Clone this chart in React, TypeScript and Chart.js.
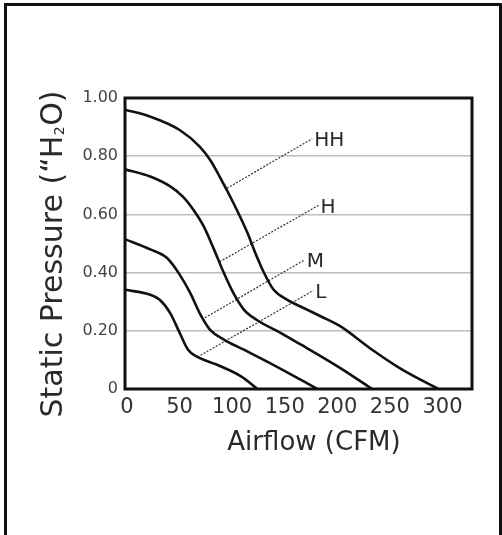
import { useEffect, useRef } from "react";
import { Chart, registerables } from "chart.js";

Chart.register(...registerables);

// ---- data ----
const xTicks = [0, 50, 100, 150, 200, 250, 300];
const xTickLabels = ["0", "50", "100", "150", "200", "250", "300"];
const yTicks = [0, 0.2, 0.4, 0.6, 0.8, 1.0];
const yTickLabels = ["0", "0.20", "0.40", "0.60", "0.80", "1.00"];

const xTitle = "Airflow (CFM)";
const yTitleStart = "Static Pressure (\u201CH";
const yTitleSub = "2";
const yTitleEnd = "O)";

const seriesNames = ["HH", "H", "M", "L"];

const hhFlow = [0, 24, 52, 71, 81, 90, 103, 116, 125, 132, 141, 154, 173, 186, 205, 233, 262, 298];
const hhPressure = [0.96, 0.936, 0.89, 0.833, 0.787, 0.73, 0.64, 0.54, 0.458, 0.401, 0.343, 0.307, 0.273, 0.25, 0.215, 0.14, 0.07, 0];

const hFlow = [0, 24, 43, 55, 65, 75, 84, 94, 103, 113, 125, 148, 167, 186, 210, 235];
const hPressure = [0.755, 0.73, 0.696, 0.661, 0.616, 0.558, 0.485, 0.399, 0.33, 0.273, 0.238, 0.193, 0.153, 0.113, 0.06, 0];

const mFlow = [0, 24, 40, 52, 62, 71, 81, 94, 113, 141, 167, 183];
const mPressure = [0.515, 0.48, 0.45, 0.393, 0.33, 0.261, 0.203, 0.17, 0.135, 0.083, 0.032, 0];

const lFlow = [0, 24, 33, 43, 52, 60, 68, 87, 110, 126];
const lPressure = [0.341, 0.324, 0.307, 0.261, 0.193, 0.135, 0.112, 0.084, 0.044, 0];

const leaderStartFlow = [97, 90, 76, 69];
const leaderStartPressure = [0.69, 0.437, 0.245, 0.11];
const leaderEndFlow = [178, 184, 171, 179];
const leaderEndPressure = [0.86, 0.631, 0.444, 0.338];

const FONT = '"DejaVu Sans", sans-serif';

function pts(xs: number[], ys: number[]) {
  return xs.map((x, i) => ({ x, y: ys[i] }));
}

export default function App() {
  const ref = useRef<HTMLCanvasElement | null>(null);

  useEffect(() => {
    document.body.style.overflow = "hidden";
    const canvas = ref.current;
    if (!canvas) return;

    const curves = [
      pts(hhFlow, hhPressure),
      pts(hFlow, hPressure),
      pts(mFlow, mPressure),
      pts(lFlow, lPressure),
    ];

    const curveSets = curves.map((d, i) => ({
      label: seriesNames[i],
      data: d,
      showLine: true,
      borderColor: "#111",
      borderWidth: 2.6,
      pointRadius: 0,
      cubicInterpolationMode: "monotone" as const,
      fill: false,
    }));

    const leaderSets = seriesNames.map((n, i) => ({
      label: n + " leader",
      data: [
        { x: leaderStartFlow[i], y: leaderStartPressure[i] },
        { x: leaderEndFlow[i], y: leaderEndPressure[i] },
      ],
      showLine: true,
      borderColor: "#333",
      borderWidth: 1.2,
      borderDash: [2, 1.5],
      pointRadius: 0,
      fill: false,
    }));

    const decor = {
      id: "decor",
      afterDatasetsDraw(chart: any) {
        const { ctx, chartArea } = chart;
        const xs = chart.scales.x;
        const ys = chart.scales.y;
        ctx.save();
        // plot frame
        ctx.strokeStyle = "#111";
        ctx.lineWidth = 3;
        ctx.strokeRect(chartArea.left, chartArea.top, chartArea.right - chartArea.left, chartArea.bottom - chartArea.top);

        // series labels at leader ends
        ctx.fillStyle = "#2a2a2a";
        ctx.font = `20px ${FONT}`;
        ctx.textAlign = "left";
        ctx.textBaseline = "middle";
        seriesNames.forEach((n, i) => {
          const px = xs.getPixelForValue(leaderEndFlow[i]) + 2;
          const py = ys.getPixelForValue(leaderEndPressure[i]) + 2;
          ctx.fillText(n, px, py);
        });

        // x title
        ctx.font = `26px ${FONT}`;
        ctx.textAlign = "center";
        ctx.textBaseline = "alphabetic";
        ctx.fillText(xTitle, 314, 450);

        // y title (rotated, with subscript)
        ctx.translate(62, 254);
        ctx.rotate(-Math.PI / 2);
        ctx.textAlign = "left";
        ctx.font = `30px ${FONT}`;
        const w1 = ctx.measureText(yTitleStart).width;
        const w3 = ctx.measureText(yTitleEnd).width;
        ctx.font = `14px ${FONT}`;
        const w2 = ctx.measureText(yTitleSub).width + 1;
        const x0 = -(w1 + w2 + w3) / 2;
        ctx.font = `30px ${FONT}`;
        ctx.fillText(yTitleStart, x0, 0);
        ctx.fillText(yTitleEnd, x0 + w1 + w2, 0);
        ctx.font = `14px ${FONT}`;
        ctx.fillText(yTitleSub, x0 + w1 + 0.5, 2);
        ctx.restore();
      },
    };

    const chart = new Chart(canvas, {
      type: "scatter",
      data: { datasets: [...curveSets, ...leaderSets] as any },
      options: {
        animation: false,
        responsive: false,
        maintainAspectRatio: false,
        layout: { padding: { left: 0, top: 98, right: 30, bottom: 106 } },
        plugins: {
          legend: { display: false },
          tooltip: { enabled: false },
          title: { display: false },
        },
        scales: {
          x: {
            type: "linear",
            min: 0,
            max: 330,
            afterFit(scale: any) {
              scale.height = 40;
            },
            afterBuildTicks(scale: any) {
              scale.ticks = xTicks.map((v) => ({ value: v }));
            },
            ticks: {
              callback: (v: any) => {
                const i = xTicks.indexOf(Number(v));
                return i >= 0 ? xTickLabels[i] : "";
              },
              font: { family: "DejaVu Sans", size: 21 },
              color: "#333",
              padding: 6,
              labelOffset: 2,
              maxRotation: 0,
              autoSkip: false,
            },
            grid: { display: false, drawTicks: false },
            border: { display: false },
          },
          y: {
            type: "linear",
            min: 0,
            max: 1,
            afterFit(scale: any) {
              scale.width = 125;
            },
            afterBuildTicks(scale: any) {
              scale.ticks = yTicks.map((v) => ({ value: v }));
            },
            ticks: {
              callback: (v: any) => {
                const i = yTicks.findIndex((t) => Math.abs(t - Number(v)) < 1e-6);
                return i >= 0 ? yTickLabels[i] : "";
              },
              font: { family: "DejaVu Sans", size: 16 },
              color: "#444",
              padding: 7,
              autoSkip: false,
            },
            grid: {
              drawTicks: false,
              lineWidth: 1.5,
              color: (c: any) =>
                c.tick && c.tick.value > 0.001 && c.tick.value < 0.999 ? "#bdbdbd" : "rgba(0,0,0,0)",
            },
            border: { display: false },
          },
        },
      },
      plugins: [decor],
    });

    return () => chart.destroy();
  }, []);

  return (
    <>
      <canvas
        ref={ref}
        width={502}
        height={535}
        style={{ position: "absolute", left: 0, top: 0, width: 502, height: 535 }}
      />
      <div
        style={{
          position: "absolute",
          left: 4,
          top: 3,
          width: 498,
          height: 532,
          boxSizing: "border-box",
          border: "3px solid #111",
          borderBottom: "none",
          pointerEvents: "none",
        }}
      />
    </>
  );
}
